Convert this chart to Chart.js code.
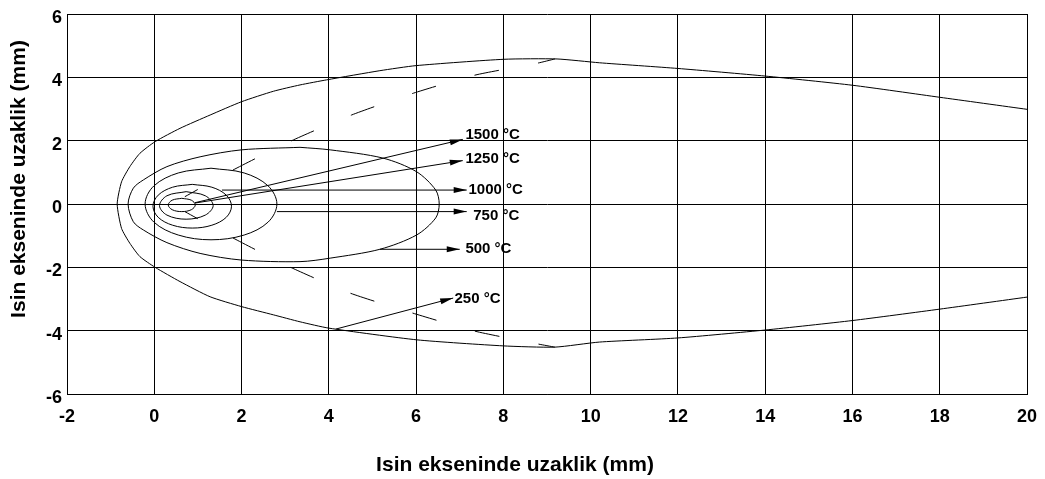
<!DOCTYPE html>
<html>
<head>
<meta charset="utf-8">
<script src="https://cdn.jsdelivr.net/npm/chart.js@4.4.1/dist/chart.umd.min.js"></script>
<style>
    body { margin: 0; background: #fff; }
</style>
</head>
<body>
<canvas id="chart" width="1045" height="479"></canvas>

<script>
    // 250 °C isotherm (open to the right)
    var c250X = [20, 18, 16, 14, 12, 10.2, 9.23, 8.01, 6.0, 5.17, 3.95, 3.34, 2.73, 2.0, 1.28, 0.59, 0.02, -0.33, -0.56, -0.75, -0.85,
        -0.75, -0.56, -0.33, 0.02, 0.59, 1.28, 2.0, 2.73, 3.34, 4.0, 6.02, 7.99, 9.18, 10.2, 12.0, 14.0, 16.0, 18.0, 20.0];
    var c250Y = [2.99, 3.37, 3.75, 4.04, 4.28, 4.46, 4.58, 4.57, 4.37, 4.21, 3.92, 3.76, 3.56, 3.23, 2.81, 2.39, 1.97, 1.60, 1.18, 0.70, 0,
        -0.77, -1.24, -1.66, -2.0, -2.45, -2.93, -3.24, -3.5, -3.72, -3.92, -4.29, -4.48, -4.52, -4.36, -4.23, -3.98, -3.68, -3.32, -2.94];

    var c500X = [3.34, 4.03, 5.24, 6.01, 6.45, 6.53, 6.45, 6.01, 5.17, 4.03, 3.34, 2.0, 1.05, 0.29, -0.25, -0.48, -0.6, -0.48, -0.25, 0.29, 1.05, 2.0, 3.34];
    var c500Y = [1.79, 1.71, 1.45, 1.02, 0.44, 0, -0.44, -0.98, -1.43, -1.71, -1.82, -1.77, -1.56, -1.22, -0.82, -0.56, 0, 0.50, 0.76, 1.18, 1.49, 1.71, 1.79];

    var c750X = [1.30, 2.06, 2.61, 2.81, 2.61, 2.06, 1.30, 0.55, -0.01, -0.21, -0.01, 0.55, 1.30];
    var c750Y = [1.13, 0.98, 0.57, 0, -0.57, -0.98, -1.13, -0.98, -0.57, 0, 0.57, 0.98, 1.13];

    var c1000X = [0.87, 1.32, 1.65, 1.77, 1.65, 1.32, 0.87, 0.42, 0.09, -0.03, 0.09, 0.42, 0.87];
    var c1000Y = [0.62, 0.53, 0.28, -0.07, -0.42, -0.67, -0.76, -0.67, -0.42, -0.07, 0.28, 0.53, 0.62];

    var c1250X = [0.73, 1.17, 1.35, 1.17, 0.73, 0.29, 0.12, 0.29, 0.73];
    var c1250Y = [0.39, 0.26, -0.05, -0.35, -0.48, -0.35, -0.05, 0.26, 0.39];

    var c1500X = [0.63, 0.85, 0.94, 0.85, 0.63, 0.41, 0.32, 0.41, 0.63];
    var c1500Y = [0.18, 0.12, -0.03, -0.18, -0.24, -0.18, -0.03, 0.12, 0.18];

    // dashed lines of maximum width
    var upperDashX = [0.70, 1.80, 3.15, 4.52, 5.94, 7.35, 8.79, 9.18];
    var upperDashY = [0.23, 1.07, 2.00, 2.81, 3.50, 4.07, 4.45, 4.58];
    var lowerDashX = [0.70, 1.80, 3.11, 4.48, 5.91, 7.33, 8.79, 9.18];
    var lowerDashY = [-0.24, -1.07, -1.99, -2.81, -3.44, -4.01, -4.42, -4.52];

    // arrows and labels
    var arrowLabels = ['1500 °C', '1250 °C', '1000 °C', '750 °C', '500 °C', '250 °C'];
    var arrowFromX = [0.93, 0.93, 1.55, 2.81, 5.17, 4.16];
    var arrowFromY = [0.04, 0.03, 0.44, -0.24, -1.43, -3.95];
    var arrowToX = [7.07, 7.07, 7.16, 7.16, 7.00, 6.85];
    var arrowToY = [2.04, 1.37, 0.44, -0.24, -1.43, -2.97];
    var labelX = [7.13, 7.13, 7.20, 7.31, 7.13, 6.88];
    var labelY = [2.18, 1.42, 0.44, -0.38, -1.42, -2.99];

    var axisTitle = 'Isin ekseninde uzaklik (mm)';

    var FONT = '"Liberation Sans", Arial, sans-serif';

    function pts(xs, ys) {
        return xs.map(function (v, i) {
            return {x: v, y: ys[i]};
        });
    }

    function curve(xs, ys, extra) {
        var ds = {
            data: pts(xs, ys),
            showLine: true,
            borderColor: '#000',
            borderWidth: 1,
            pointRadius: 0,
            tension: 0.35,
            fill: false
        };
        return Object.assign(ds, extra || {});
    }

    var datasets = [
        curve(c250X, c250Y, {tension: 0.2}),
        curve(c500X, c500Y, {tension: 0.3}),
        curve(c750X, c750Y),
        curve(c1000X, c1000Y),
        curve(c1250X, c1250Y),
        curve(c1500X, c1500Y),
        curve(upperDashX, upperDashY, {borderDash: [25, 40], borderDashOffset: 10, tension: 0.2}),
        curve(lowerDashX, lowerDashY, {borderDash: [25, 40], borderDashOffset: 10, tension: 0.2})
    ];
    arrowLabels.forEach(function (l, i) {
        datasets.push(curve([arrowFromX[i], arrowToX[i]], [arrowFromY[i], arrowToY[i]], {tension: 0}));
    });

    var arrowPlugin = {
        id: 'arrows',
        afterDatasetsDraw: function (chart) {
            var ctx = chart.ctx;
            var sx = chart.scales.x, sy = chart.scales.y;
            ctx.save();
            ctx.fillStyle = '#000';
            ctx.font = 'bold 15px ' + FONT;
            ctx.textAlign = 'left';
            ctx.textBaseline = 'middle';
            for (var i = 0; i < arrowLabels.length; i++) {
                var x0 = sx.getPixelForValue(arrowFromX[i]), y0 = sy.getPixelForValue(arrowFromY[i]);
                var x1 = sx.getPixelForValue(arrowToX[i]), y1 = sy.getPixelForValue(arrowToY[i]);
                var a = Math.atan2(y1 - y0, x1 - x0);
                var c = Math.cos(a), s = Math.sin(a);
                ctx.beginPath();
                ctx.moveTo(x1, y1);
                ctx.lineTo(x1 - 13 * c + 3 * s, y1 - 13 * s - 3 * c);
                ctx.lineTo(x1 - 13 * c - 3 * s, y1 - 13 * s + 3 * c);
                ctx.closePath();
                ctx.fill();
                ctx.fillText(arrowLabels[i], sx.getPixelForValue(labelX[i]), sy.getPixelForValue(labelY[i]));
            }
            ctx.font = 'bold 21px ' + FONT;
            ctx.textAlign = 'center';
            ctx.fillText(axisTitle, 515, 465);
            ctx.translate(19, 179);
            ctx.rotate(-Math.PI / 2);
            ctx.fillText(axisTitle, 0, 0);
            ctx.restore();
        }
    };

    var tickFont = {family: FONT, size: 18, weight: 'bold'};

    var ctx = document.getElementById('chart').getContext('2d');
    var chart = new Chart(ctx, {
        type: 'scatter',
        data: {datasets: datasets},
        options: {
            responsive: false,
            animation: false,
            devicePixelRatio: 1,
            layout: {padding: {top: 14, right: 18, left: 0, bottom: 0}},
            plugins: {legend: {display: false}, tooltip: {enabled: false}},
            scales: {
                x: {
                    type: 'linear',
                    min: -2,
                    max: 20,
                    ticks: {stepSize: 2, color: '#000', font: tickFont, padding: 12, maxRotation: 0},
                    grid: {color: '#000', lineWidth: 1, drawTicks: false},
                    border: {color: '#000', width: 1},
                    afterFit: function (s) {
                        s.height = 85;
                        s.paddingLeft = 0;
                        s.paddingRight = 0;
                    }
                },
                y: {
                    type: 'linear',
                    min: -6,
                    max: 6,
                    ticks: {stepSize: 2, color: '#000', font: tickFont, padding: 5, labelOffset: 4},
                    grid: {color: '#000', lineWidth: 1, drawTicks: false},
                    border: {color: '#000', width: 1},
                    afterFit: function (s) {
                        s.width = 67;
                        s.paddingTop = 0;
                        s.paddingBottom = 0;
                    }
                }
            }
        },
        plugins: [arrowPlugin]
    });
</script>
</body>
</html>
